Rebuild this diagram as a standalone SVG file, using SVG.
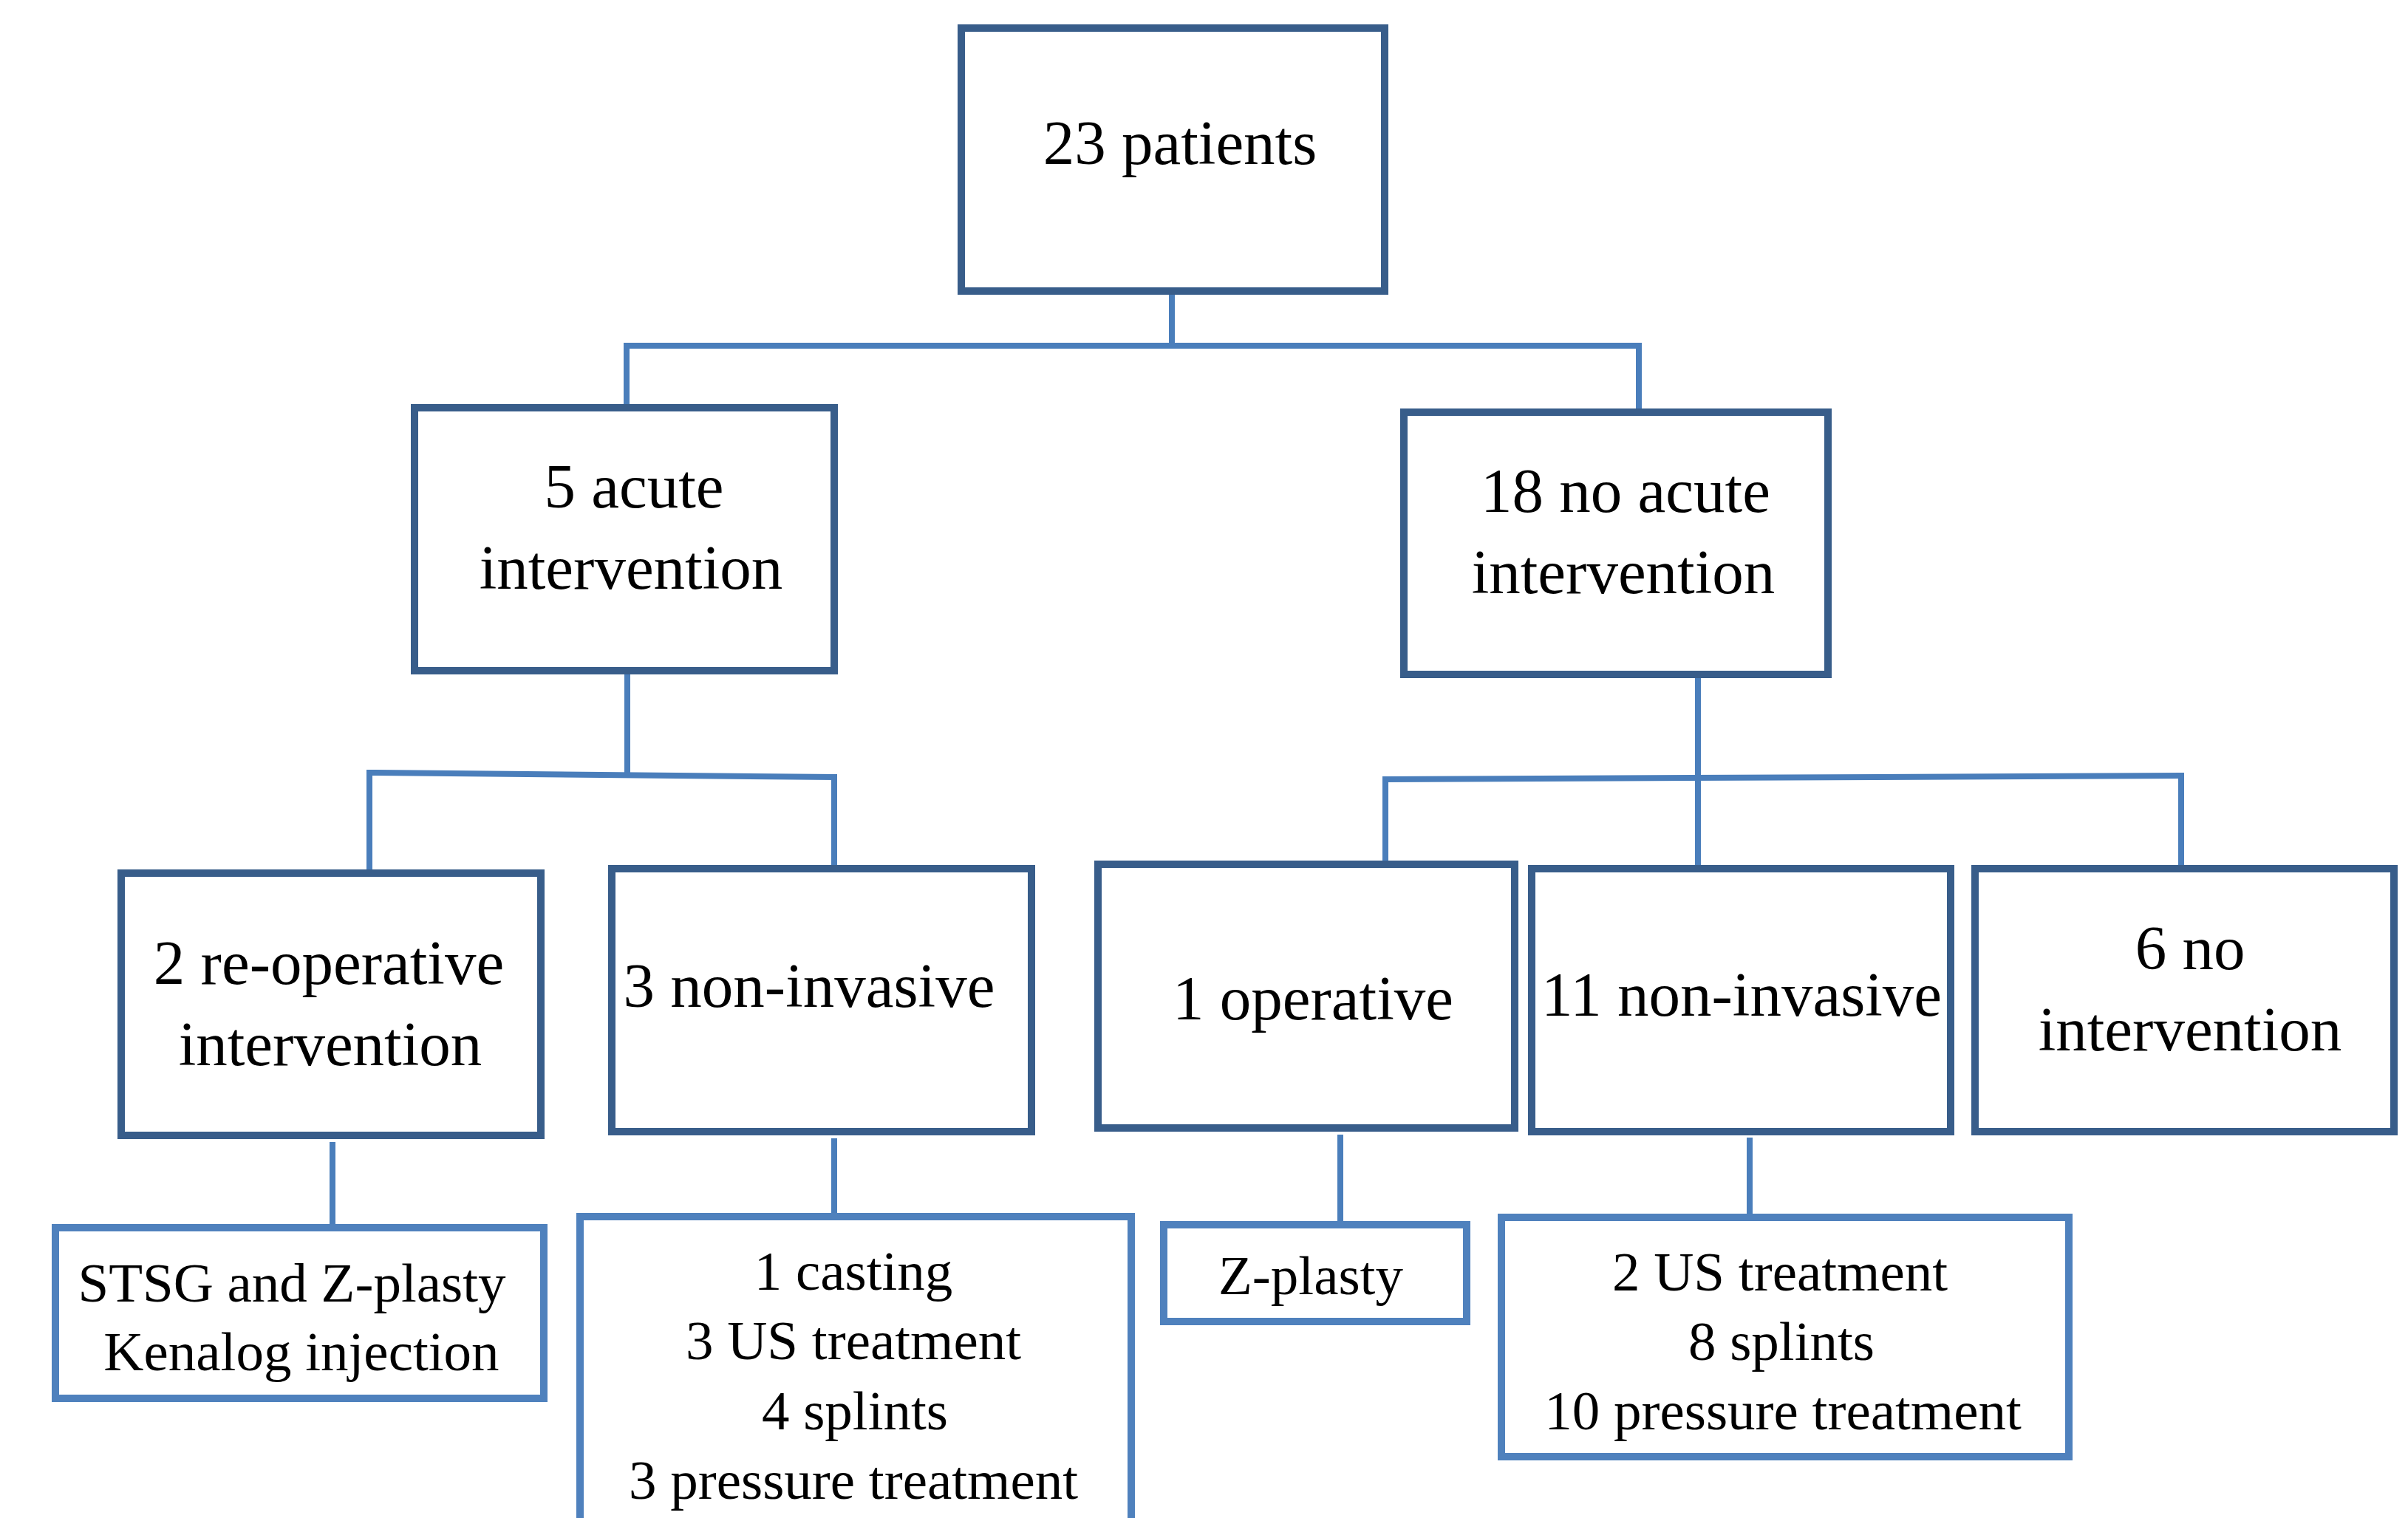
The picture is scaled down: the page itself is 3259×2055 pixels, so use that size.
<svg xmlns="http://www.w3.org/2000/svg" width="3259" height="2055" viewBox="0 0 3259 2055">
<style>
.bg{fill:#ffffff}
.box{fill:#ffffff;stroke:#385d8a;stroke-width:10}
.leaf{fill:#ffffff;stroke:#4f81bd;stroke-width:10}
.conn{fill:none;stroke:#4a7ebb;stroke-width:8}
text{font-family:"Liberation Serif","Times New Roman",serif;fill:#000000;text-anchor:middle}
.l{font-size:85px}
.s{font-size:75px}
</style>
<rect class="bg" x="0" y="0" width="3259" height="2055"/>
<g id="connectors">
<path class="conn" d="M1586 399 V468"/>
<path class="conn" d="M848 468 H2218"/>
<path class="conn" d="M848 464 V547"/>
<path class="conn" d="M2218 464 V553"/>
<path class="conn" d="M849 913 V1046"/>
<path class="conn" d="M500 1046 L1131 1052"/>
<path class="conn" d="M500 1042 V1177"/>
<path class="conn" d="M1129 1048 V1171"/>
<path class="conn" d="M2298 918 V1171"/>
<path class="conn" d="M1875 1055 L2952 1050"/>
<path class="conn" d="M1875 1051 V1165"/>
<path class="conn" d="M2952 1046 V1171"/>
<path class="conn" d="M450 1546 V1657"/>
<path class="conn" d="M1129 1541 V1642"/>
<path class="conn" d="M1814 1536 V1653"/>
<path class="conn" d="M2368 1540 V1643"/>
</g>
<g id="n-root">
<rect class="box" x="1301" y="38" width="573" height="356"/>
<text class="l" x="1597" y="222">23 patients</text>
</g>
<g id="n-acute">
<rect class="box" x="561" y="552" width="568" height="356"/>
<text class="l" x="858" y="687">5 acute</text>
<text class="l" x="854" y="797">intervention</text>
</g>
<g id="n-noacute">
<rect class="box" x="1900" y="558" width="574" height="355"/>
<text class="l" x="2200" y="693">18 no acute</text>
<text class="l" x="2197" y="803">intervention</text>
</g>
<g id="n-reop">
<rect class="box" x="164" y="1182" width="568" height="355"/>
<text class="l" x="445" y="1332">2 re-operative</text>
<text class="l" x="447" y="1442">intervention</text>
</g>
<g id="n-noninv3">
<rect class="box" x="828" y="1176" width="568" height="356"/>
<text class="l" x="1095" y="1363">3 non-invasive</text>
</g>
<g id="n-op1">
<rect class="box" x="1486" y="1170" width="564" height="357"/>
<text class="l" x="1777" y="1380">1 operative</text>
</g>
<g id="n-noninv11">
<rect class="box" x="2073" y="1176" width="567" height="356"/>
<text class="l" x="2357" y="1375">11 non-invasive</text>
</g>
<g id="n-noint">
<rect class="box" x="2673" y="1176" width="567" height="356"/>
<text class="l" x="2964" y="1312">6 no</text>
<text class="l" x="2964" y="1422">intervention</text>
</g>
<g id="n-stsg">
<rect class="leaf" x="75" y="1662" width="661" height="231"/>
<text class="s" x="395" y="1762">STSG and Z-plasty</text>
<text class="s" x="408" y="1855">Kenalog injection</text>
</g>
<g id="n-casting">
<rect class="leaf" x="785" y="1647" width="746" height="440"/>
<text class="s" x="1155" y="1746">1 casting</text>
<text class="s" x="1155" y="1840">3 US treatment</text>
<text class="s" x="1157" y="1935">4 splints</text>
<text class="s" x="1155" y="2029">3 pressure treatment</text>
</g>
<g id="n-zplasty">
<rect class="leaf" x="1575" y="1658" width="410" height="131"/>
<text class="s" x="1774" y="1752">Z-plasty</text>
</g>
<g id="n-us2">
<rect class="leaf" x="2032" y="1648" width="768" height="324"/>
<text class="s" x="2409" y="1747">2 US treatment</text>
<text class="s" x="2411" y="1841">8 splints</text>
<text class="s" x="2413" y="1935">10 pressure treatment</text>
</g>
</svg>
